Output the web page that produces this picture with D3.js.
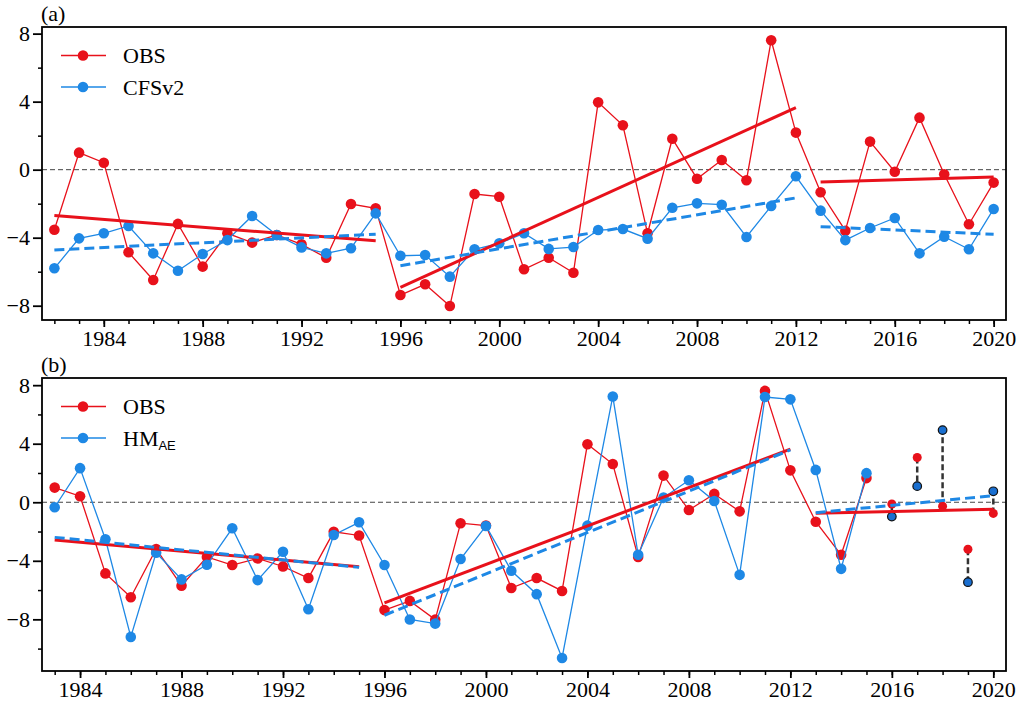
<!DOCTYPE html>
<html>
<head>
<meta charset="utf-8">
<script src="https://cdn.jsdelivr.net/npm/d3@7"></script>
<style>
body { margin: 0; background: #fff; }
text { font-family: "Liberation Serif", "Times New Roman", serif; fill: #000; }
</style>
</head>
<body>
<svg id="chart" width="1028" height="709"></svg>
<script>
// years shown in each panel
let yearsA = [1982, 1983, 1984, 1985, 1986, 1987, 1988, 1989, 1990, 1991, 1992, 1993, 1994,
    1995, 1996, 1997, 1998, 1999, 2000, 2001, 2002, 2003, 2004, 2005, 2006, 2007, 2008,
    2009, 2010, 2011, 2012, 2013, 2014, 2015, 2016, 2017, 2018, 2019, 2020];
let yearsB = yearsA.slice(1);

// observed anomaly, 1982-2020
let obs = [-3.53, 1.0, 0.41, -4.86, -6.49, -3.19, -5.7, -3.74, -4.29, -3.84, -4.39, -5.18, -2.02,
    -2.27, -7.37, -6.74, -8.02, -1.43, -1.59, -5.86, -5.18, -6.06, 3.96, 2.61, -3.74, 1.82, -0.53,
    0.57, -0.62, 7.61, 2.18, -1.33, -3.59, 1.65, -0.12, 3.06, -0.27, -3.21, -0.76];

// CFSv2, 1982-2020
let cfs = [-5.8, -4.04, -3.74, -3.31, -4.92, -5.94, -4.96, -4.14, -2.72, -3.84, -4.57, -4.92, -4.62,
    -2.57, -5.06, -5.02, -6.29, -4.68, -4.33, -3.74, -4.66, -4.55, -3.55, -3.49, -4.06, -2.24, -1.98,
    -2.06, -3.96, -2.14, -0.39, -2.41, -4.14, -3.43, -2.84, -4.92, -3.94, -4.68, -2.31];

// HM_AE, 1983-2020 (after 2015 shown as separate forecast points)
let hm = [-0.34, 2.33, -2.53, -9.2, -3.45, -5.27, -4.27, -1.78, -5.32, -3.38, -7.31, -2.24, -1.37,
    -4.29, -8.01, -8.29, -3.88, -1.62, -4.68, -6.28, -10.64, -1.6, 7.23, -3.59, 0.32, 1.5, 0.09,
    -4.96, 7.19, 7.03, 2.21, -4.55, 1.99, -0.98, 1.1, 4.93, -5.46, 0.75];
let hindcastEnd = 2015;

// trend segments: [startYear, endYear] and [startValue, endValue]
let periodsA = [[1982, 1995], [1996, 2012], [2013, 2020]];
let periodsB = [[1983, 1995], [1996, 2012], [2013, 2020]];
let obsTrendA = [[-2.7, -4.18], [-6.92, 3.65], [-0.72, -0.43]];
let cfsTrendA = [[-4.72, -3.8], [-5.65, -1.66], [-3.35, -3.8]];
let obsTrendB = [[-2.58, -4.41], [-6.87, 3.63], [-0.75, -0.48]];
let hmTrendB = [[-2.4, -4.45], [-7.72, 3.58], [-0.71, 0.45]];

let yMajor = [-8, -4, 0, 4, 8];
let xMajor = [1984, 1988, 1992, 1996, 2000, 2004, 2008, 2012, 2016, 2020];

let RED = "#e8111b";
let BLUE = "#1e88e5";
let BLUE_DARK = "#1a6fd0";
let SERIF = "'Liberation Serif', 'Times New Roman', serif";

let svg = d3.select("#chart");

/**
 * Draws one panel
 */
function drawPanel(cfg) {
    let g = svg.append("g");
    let x = d3.scaleLinear().domain(cfg.xDomain).range([42, 1006]);
    let y = d3.scaleLinear().domain(cfg.yDomain).range([cfg.bottom, cfg.top]);

    // minor ticks
    g.append("g")
        .attr("transform", "translate(0," + cfg.bottom + ")")
        .call(d3.axisBottom(x).tickValues(cfg.years).tickSize(4).tickSizeOuter(0).tickFormat(""))
        .call(a => a.select(".domain").remove())
        .selectAll("line").attr("stroke-width", 1.5);
    g.append("g")
        .attr("transform", "translate(42,0)")
        .call(d3.axisLeft(y).tickValues(cfg.yMinor).tickSize(4).tickSizeOuter(0).tickFormat(""))
        .call(a => a.select(".domain").remove())
        .selectAll("line").attr("stroke-width", 1.5);

    // major ticks
    let xa = g.append("g")
        .attr("transform", "translate(0," + cfg.bottom + ")")
        .call(d3.axisBottom(x).tickValues(xMajor).tickSize(7).tickPadding(3).tickFormat(d3.format("d")));
    xa.select(".domain").remove();
    xa.selectAll("line").attr("stroke-width", 1.8);
    xa.selectAll("text").style("font-size", "22px").style("font-family", SERIF);

    let ya = g.append("g")
        .attr("transform", "translate(42,0)")
        .call(d3.axisLeft(y).tickValues(yMajor).tickSize(9).tickPadding(3)
            .tickFormat(d => d < 0 ? "\u2212" + Math.abs(d) : d));
    ya.select(".domain").remove();
    ya.selectAll("line").attr("stroke-width", 1.8);
    ya.selectAll("text").style("font-size", "22px").style("font-family", SERIF);

    // zero line
    g.append("line")
        .attr("x1", 42).attr("x2", 1006)
        .attr("y1", y(0)).attr("y2", y(0))
        .attr("stroke", "#444").attr("stroke-width", 1)
        .attr("stroke-dasharray", "5,3");

    let line = d3.line().x(d => x(d[0])).y(d => y(d[1]));

    // series
    cfg.series.forEach(function(s) {
        let pts = s.years.map((yr, i) => [yr, s.values[i]]).filter(d => d[0] <= s.lineEnd);
        g.append("path")
            .attr("d", line(pts))
            .attr("fill", "none")
            .attr("stroke", s.color)
            .attr("stroke-width", 1.3);
        g.selectAll(null)
            .data(pts)
            .enter()
            .append("circle")
            .attr("cx", d => x(d[0]))
            .attr("cy", d => y(d[1]))
            .attr("r", 5.3)
            .attr("fill", s.color);
    });

    // forecast points with connectors (panel b)
    if (cfg.forecast) {
        let f = cfg.forecast;
        let pairs = f.years.map((yr, i) => ({yr: yr, o: f.obs[i], m: f.model[i]}));
        g.selectAll(null)
            .data(pairs)
            .enter()
            .append("line")
            .attr("x1", d => x(d.yr)).attr("x2", d => x(d.yr))
            .attr("y1", d => y(d.o)).attr("y2", d => y(d.m))
            .attr("stroke", "#333")
            .attr("stroke-width", 2.5)
            .attr("stroke-dasharray", "6,3");
        g.selectAll(null)
            .data(pairs)
            .enter()
            .append("circle")
            .attr("cx", d => x(d.yr)).attr("cy", d => y(d.o))
            .attr("r", 4.5)
            .attr("fill", RED);
        g.selectAll(null)
            .data(pairs)
            .enter()
            .append("circle")
            .attr("cx", d => x(d.yr)).attr("cy", d => y(d.m))
            .attr("r", 4.3)
            .attr("fill", BLUE_DARK)
            .attr("stroke", "#111")
            .attr("stroke-width", 1.2);
    }

    // trend segments
    cfg.trends.forEach(function(t) {
        t.periods.forEach(function(p, i) {
            g.append("path")
                .attr("d", line([[p[0], t.values[i][0]], [p[1], t.values[i][1]]]))
                .attr("stroke", t.color)
                .attr("stroke-width", 3)
                .attr("stroke-dasharray", t.dash)
                .attr("fill", "none");
        });
    });

    // frame
    g.append("rect")
        .attr("x", 42).attr("y", cfg.top)
        .attr("width", 1006 - 42).attr("height", cfg.bottom - cfg.top)
        .attr("fill", "none")
        .attr("stroke", "#000")
        .attr("stroke-width", 1.8);

    // panel label
    g.append("text")
        .attr("x", 41).attr("y", cfg.top - 6)
        .style("font-size", "22px")
        .text(cfg.label);

    // legend
    cfg.legend.forEach(function(l, i) {
        let ly = cfg.top + 28.5 + i * 31.5;
        g.append("line")
            .attr("x1", 61).attr("x2", 106)
            .attr("y1", ly).attr("y2", ly)
            .attr("stroke", l.color).attr("stroke-width", 1.5);
        g.append("circle")
            .attr("cx", 83).attr("cy", ly).attr("r", 5.3)
            .attr("fill", l.color);
        let t = g.append("text")
            .attr("x", 123).attr("y", ly + 7.5)
            .style("font-size", "22px")
            .text(l.name);
        if (l.sub) {
            t.append("tspan")
                .style("font-family", "'Liberation Sans', Arial, sans-serif")
                .style("font-size", "13px")
                .attr("dy", 4)
                .text(l.sub);
        }
    });
}

drawPanel({
    label: "(a)",
    top: 27, bottom: 320,
    xDomain: [1981.5, 2020.5],
    yDomain: [-8.84, 8.39],
    years: yearsA,
    yMinor: [-6, -2, 2, 6],
    series: [
        {years: yearsA, values: obs, color: RED, lineEnd: 2020},
        {years: yearsA, values: cfs, color: BLUE, lineEnd: 2020}
    ],
    trends: [
        {periods: periodsA, values: obsTrendA, color: RED, dash: null},
        {periods: periodsA, values: cfsTrendA, color: BLUE, dash: "10,5"}
    ],
    legend: [{name: "OBS", color: RED}, {name: "CFSv2", color: BLUE}]
});

let obsB = obs.slice(1);
drawPanel({
    label: "(b)",
    top: 378, bottom: 671,
    xDomain: [1982.5, 2020.5],
    yDomain: [-11.53, 8.49],
    years: yearsB,
    yMinor: [-10, -6, -2, 2, 6],
    series: [
        {years: yearsB, values: obsB, color: RED, lineEnd: hindcastEnd},
        {years: yearsB, values: hm, color: BLUE, lineEnd: hindcastEnd}
    ],
    forecast: {
        years: yearsB.filter(d => d > hindcastEnd),
        obs: obsB.filter((d, i) => yearsB[i] > hindcastEnd),
        model: hm.filter((d, i) => yearsB[i] > hindcastEnd)
    },
    trends: [
        {periods: periodsB, values: obsTrendB, color: RED, dash: null},
        {periods: periodsB, values: hmTrendB, color: BLUE, dash: "10,5"}
    ],
    legend: [{name: "OBS", color: RED}, {name: "HM", sub: "AE", color: BLUE}]
});
</script>
</body>
</html>
